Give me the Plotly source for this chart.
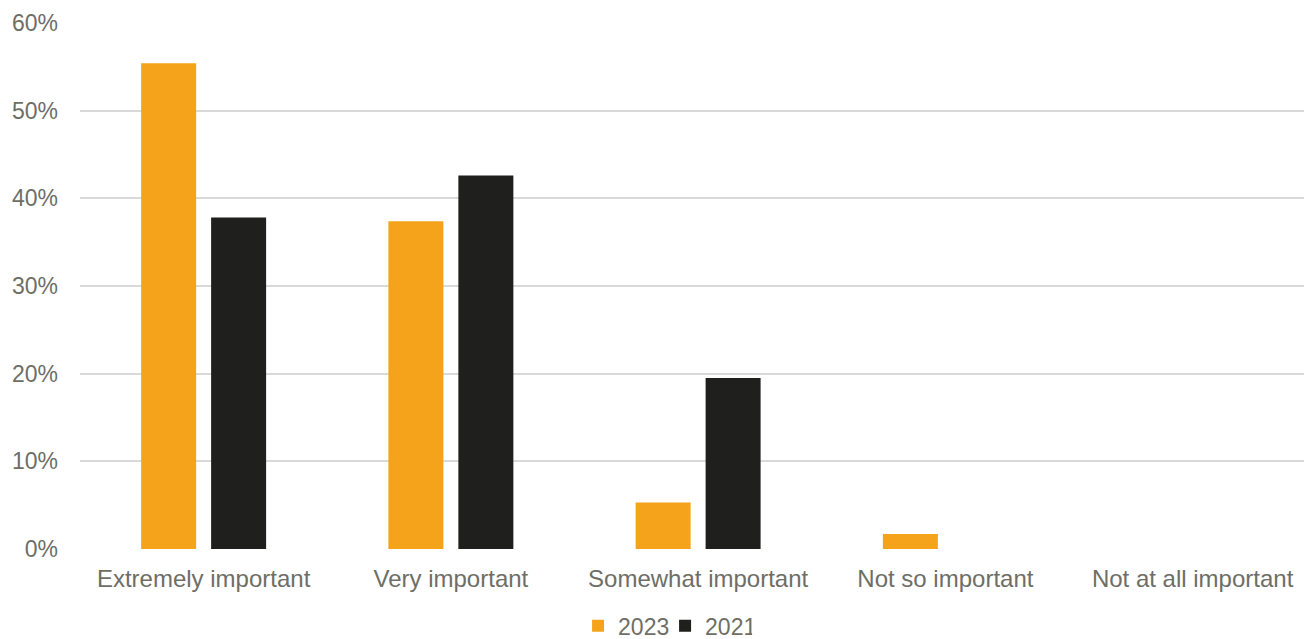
import plotly.graph_objects as go

categories = ["Extremely important", "Very important", "Somewhat important", "Not so important", "Not at all important"]
v2023 = [55.4, 37.4, 5.3, 1.7, 0.0]
v2021 = [37.8, 42.6, 19.5, 0.0, 0.0]
yticks = [0, 10, 20, 30, 40, 50, 60]
ytick_labels = ["0%", "10%", "20%", "30%", "40%", "50%", "60%"]

FONT = "Liberation Sans, Arial, sans-serif"
TXT = "#6E6E66"

fig = go.Figure()
fig.add_trace(go.Bar(x=categories, y=v2023, name="2023",
                     marker=dict(color="#F5A31A", line=dict(width=0))))
fig.add_trace(go.Bar(x=categories, y=v2021, name="2021",
                     marker=dict(color="#1F1F1D", line=dict(width=0))))

fig.update_layout(
    width=1304, height=639,
    margin=dict(l=80, r=0, t=23, b=90, autoexpand=False),
    paper_bgcolor="white", plot_bgcolor="white",
    barmode="group", bargap=0.434, bargroupgap=0.214,
    font=dict(family=FONT, size=24, color=TXT),
    showlegend=True,
    legend=dict(orientation="h", x=0.478, xanchor="center", y=-0.146, yanchor="middle",
                font=dict(size=23, color=TXT), itemwidth=30, traceorder="normal",
                entrywidth=42, entrywidthmode="pixels"),
)
fig.update_xaxes(type="category", range=[-0.5, 4.4505], showgrid=False, showline=False,
                 ticks="", tickfont=dict(size=24, color=TXT), zeroline=False,
                 ticklabelstandoff=13, automargin=False)
fig.update_yaxes(range=[0, 60], tickvals=yticks, ticktext=ytick_labels,
                 showgrid=True, gridcolor="#D9D9D9", gridwidth=1.5,
                 zeroline=False, showline=False, ticks="",
                 tickfont=dict(size=23, color=TXT), ticklabelstandoff=21, automargin=False)

fig.write_html("out.html")
